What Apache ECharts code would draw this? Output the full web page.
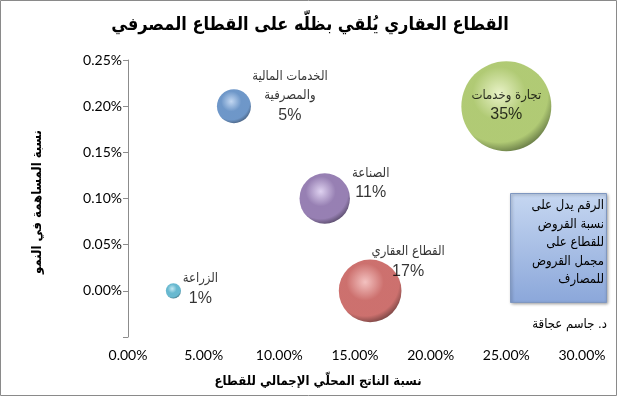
<!DOCTYPE html>
<html>
<head>
<meta charset="utf-8">
<script src="https://cdn.jsdelivr.net/npm/echarts@6/dist/echarts.min.js"></script>
<style>
body{margin:0;background:#fff}
#chart{width:620px;height:397px}
</style>
</head>
<body>
<div id="chart"></div>
<script>
// sector data (values in %)
var sectors = ['الزراعة', 'الخدمات المالية\nوالمصرفية', 'الصناعة', 'القطاع العقاري', 'تجارة وخدمات'];
var gdpShare = [3, 7, 13, 16, 25];
var growthShare = [0, 0.20, 0.10, 0, 0.20];
var loanShare = [1, 5, 11, 17, 35];

var xMin = 0, xMax = 30, xStep = 5;
var yMin = -0.05, yMax = 0.25, yStep = 0.05;

var arabicFont = '"DejaVu Sans Condensed", "DejaVu Sans", sans-serif';

// sphere colours: highlight, base, rim
var sphereColors = [
    ['#b6e3ef', '#42a7c4', '#185a6e'],
    ['#b3cdee', '#4a7dbb', '#1f3f68'],
    ['#d6c6ec', '#7d60a0', '#36244d'],
    ['#f0b2b0', '#c04d4a', '#5e1a18'],
    ['#e3efb9', '#9dbd52', '#48611c']
];
// label offsets from bubble centre
var labelOffsets = [[27, -2], [56, -10], [46, -15], [38, -29], [0, -1]];

function pct(v) {
    return v.toFixed(2) + '%';
}

var seriesData = sectors.map(function (name, i) {
    var c = sphereColors[i];
    return {
        name: name,
        value: [gdpShare[i], growthShare[i], loanShare[i]],
        itemStyle: {
            color: {
                type: 'radial', x: 0.42, y: 0.36, r: 0.66,
                colorStops: [
                    {offset: 0, color: c[0]},
                    {offset: 0.45, color: c[1]},
                    {offset: 0.82, color: c[1]},
                    {offset: 1, color: c[2]}
                ]
            }
        },
        label: {offset: labelOffsets[i]}
    };
});

var chart = echarts.init(document.getElementById('chart'));

var option = {
    backgroundColor: '#fff',
    animation: false,
    grid: {left: 128, right: 38, top: 60, bottom: 60},
    xAxis: {
        type: 'value',
        min: xMin, max: xMax, interval: xStep,
        axisLine: {show: false},
        axisTick: {show: false},
        splitLine: {show: false},
        axisLabel: {
            margin: 11,
            fontFamily: 'Lato', fontSize: 14, color: '#000',
            formatter: function (v) { return pct(v); }
        }
    },
    yAxis: {
        type: 'value',
        min: yMin, max: yMax, interval: yStep,
        axisLine: {show: true, lineStyle: {color: '#8c8c8c', width: 1}},
        axisTick: {show: true, inside: false, length: 5, lineStyle: {color: '#8c8c8c'}},
        splitLine: {show: false},
        axisLabel: {
            margin: 6,
            fontFamily: 'Lato', fontSize: 14, color: '#000',
            formatter: function (v) { return v < -1e-9 ? '' : pct(v); }
        }
    },
    series: [{
        type: 'scatter',
        data: seriesData,
        symbolSize: function (d) { return 15.2 * Math.sqrt(d[2]); },
        label: {
            show: true,
            position: 'inside',
            align: 'center',
            verticalAlign: 'middle',
            color: '#000',
            textBorderWidth: 0,
            textShadowBlur: 0,
            formatter: function (p) {
                return '{n|' + p.name.split('\n').join('}\n{n|') + '}\n{p|' + p.value[2] + '%}';
            },
            rich: {
                n: {fontFamily: arabicFont, fontSize: 13, color: '#000', lineHeight: 19, align: 'center', textBorderWidth: 0},
                p: {fontFamily: 'Liberation Sans', fontSize: 16, color: '#000', lineHeight: 20, align: 'center', textBorderWidth: 0}
            }
        }
    }],
    graphic: [
        {
            type: 'rect', silent: true,
            shape: {x: 0.5, y: 0.5, width: 616, height: 395},
            style: {fill: 'none', stroke: '#8a8a8a', lineWidth: 1}
        },
        {
            type: 'text', x: 310, y: 25,
            style: {
                text: 'القطاع العقاري يُلقي بظلّه على القطاع المصرفي',
                font: 'bold 18px ' + arabicFont, fill: '#000',
                textAlign: 'center', textVerticalAlign: 'middle'
            }
        },
        {
            type: 'text', x: 318, y: 382,
            style: {
                text: 'نسبة الناتج المحلّي الإجمالي للقطاع',
                font: 'bold 13px ' + arabicFont, fill: '#000',
                textAlign: 'center', textVerticalAlign: 'middle'
            }
        },
        {
            type: 'text', x: 38, y: 202, rotation: Math.PI / 2,
            style: {
                text: 'نسبة المساهمة في النمو',
                font: 'bold 13px ' + arabicFont, fill: '#000',
                textAlign: 'center', textVerticalAlign: 'middle'
            }
        },
        {
            type: 'rect',
            shape: {x: 510.5, y: 193.5, width: 96, height: 109},
            style: {
                fill: {
                    type: 'linear', x: 0, y: 0, x2: 0, y2: 1,
                    colorStops: [{offset: 0, color: '#c6d7f1'}, {offset: 1, color: '#8ba7da'}]
                },
                stroke: '#7f97c0', lineWidth: 1,
                shadowBlur: 3, shadowColor: 'rgba(0,0,0,0.35)', shadowOffsetX: 1, shadowOffsetY: 1
            }
        },
        {
            type: 'text', x: 604, y: 243,
            style: {
                text: 'الرقم يدل على\nنسبة القروض\nللقطاع على\nمجمل القروض\nللمصارف',
                font: '13px ' + arabicFont, fill: '#000', lineHeight: 18.5,
                textAlign: 'right', textVerticalAlign: 'middle'
            }
        },
        {
            type: 'text', x: 607, y: 325,
            style: {
                text: 'د. جاسم عجاقة',
                font: '13px ' + arabicFont, fill: '#000',
                textAlign: 'right', textVerticalAlign: 'middle'
            }
        }
    ]
};

chart.setOption(option);
</script>
</body>
</html>
